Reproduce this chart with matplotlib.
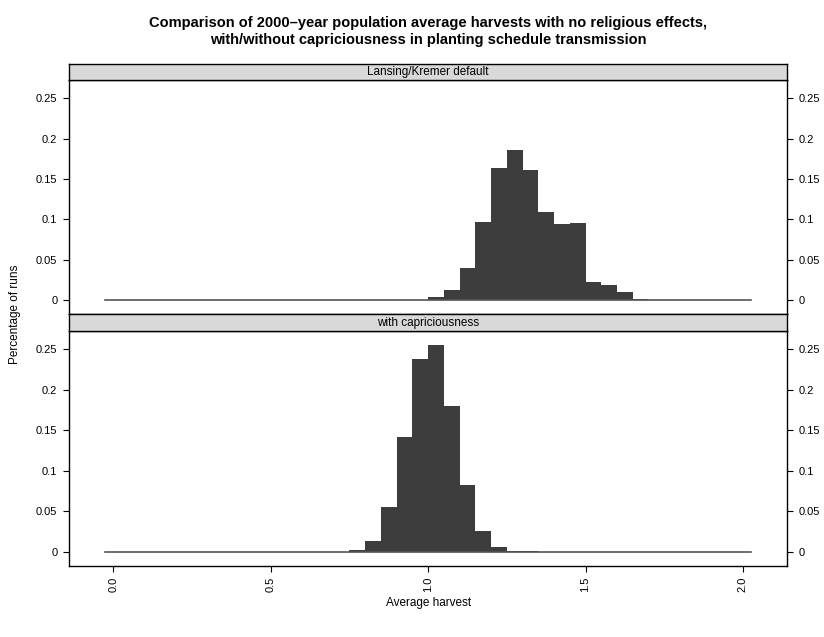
import numpy as np
import matplotlib
matplotlib.use('Agg')
import matplotlib.pyplot as plt

plt.rcParams['font.family'] = ['Liberation Sans', 'DejaVu Sans']

# DATA
bin_width = 0.05
bin_edges = np.round(np.arange(0, 2.0 + bin_width / 2, bin_width), 3)  # 0.00 .. 2.00

# non-zero bins: left edge -> share of runs
default_left = [0.95, 1.00, 1.05, 1.10, 1.15, 1.20, 1.25, 1.30, 1.35, 1.40, 1.45, 1.50, 1.55, 1.60, 1.65]
default_vals = [0.0005, 0.0042, 0.0129, 0.0398, 0.0966, 0.1634, 0.1866, 0.161, 0.1087, 0.0938, 0.095,
                0.0224, 0.0183, 0.010, 0.0017]
capr_left = [0.75, 0.80, 0.85, 0.90, 0.95, 1.00, 1.05, 1.10, 1.15, 1.20, 1.25, 1.30]
capr_vals = [0.0021, 0.0133, 0.055, 0.142, 0.238, 0.255, 0.18, 0.082, 0.0249, 0.0054, 0.0008, 0.0003]

panel_titles = ['Lansing/Kremer default', 'with capriciousness']
y_ticks = [0, 0.05, 0.1, 0.15, 0.2, 0.25]
y_tick_labels = ['0', '0.05', '0.1', '0.15', '0.2', '0.25']
x_ticks = [0.0, 0.5, 1.0, 1.5, 2.0]
x_tick_labels = ['0.0', '0.5', '1.0', '1.5', '2.0']
title = ('Comparison of 2000\u2013year population average harvests with no religious effects,\n'
         'with/without capriciousness in planting schedule transmission')


def fill_bins(lefts, vals):
    h = np.zeros(len(bin_edges) - 1)
    for l, v in zip(lefts, vals):
        h[int(round(l / bin_width))] = v
    return h


heights = [fill_bins(default_left, default_vals), fill_bins(capr_left, capr_vals)]

# lattice-style limits (7% padding)
xlim = (bin_edges[0] - 0.07 * (bin_edges[-1] - bin_edges[0]), bin_edges[-1] + 0.07 * (bin_edges[-1] - bin_edges[0]))
ymax = max(max(default_vals), max(capr_vals))
ylim = (-0.07 * ymax, 1.07 * ymax)

fig = plt.figure(figsize=(8.24, 6.37), dpi=100)

left, width = 0.0841, 0.8710
panel_boxes = [(0.5066, 0.3678), (0.1115, 0.3689)]
strip_boxes = [(0.8744, 0.0251), (0.4804, 0.0262)]

for i in range(2):
    ax = fig.add_axes([left, panel_boxes[i][0], width, panel_boxes[i][1]])
    ax.bar(bin_edges[:-1], heights[i], width=bin_width, align='edge', color='#3d3d3d', edgecolor='none')
    ax.plot([bin_edges[0] - bin_width / 2, bin_edges[-1] + bin_width / 2], [0, 0], color='#555555', lw=1.2)
    ax.set_xlim(*xlim)
    ax.set_ylim(*ylim)
    ax.set_yticks(y_ticks)
    ax.set_yticklabels(y_tick_labels)
    ax.tick_params(axis='y', direction='out', length=4.5, width=0.8, labelsize=8,
                   left=True, right=True, labelleft=True, labelright=True, pad=4)
    if i == 1:
        ax.set_xticks(x_ticks)
        ax.set_xticklabels(x_tick_labels, rotation=90)
        ax.tick_params(axis='x', direction='out', length=4.5, width=0.8, labelsize=8, pad=3)
        ax.set_xlabel('Average harvest', fontsize=8.5, labelpad=4)
    else:
        ax.set_xticks([])
    for s in ax.spines.values():
        s.set_linewidth(1.0)

    # strip on top of each panel
    st = fig.add_axes([left, strip_boxes[i][0], width, strip_boxes[i][1]])
    st.set_facecolor('#d9d9d9')
    st.set_xticks([])
    st.set_yticks([])
    for s in st.spines.values():
        s.set_linewidth(1.0)
    st.text(0.5, 0.5, panel_titles[i], ha='center', va='center', fontsize=8.5, transform=st.transAxes)

fig.text(0.018, 0.5066, 'Percentage of runs', rotation=90, ha='center', va='center', fontsize=8.5)
fig.text(0.5195, 0.951, title, ha='center', va='center', fontsize=10.5, fontweight='bold', linespacing=1.25)

fig.savefig('out.png', dpi=100)
